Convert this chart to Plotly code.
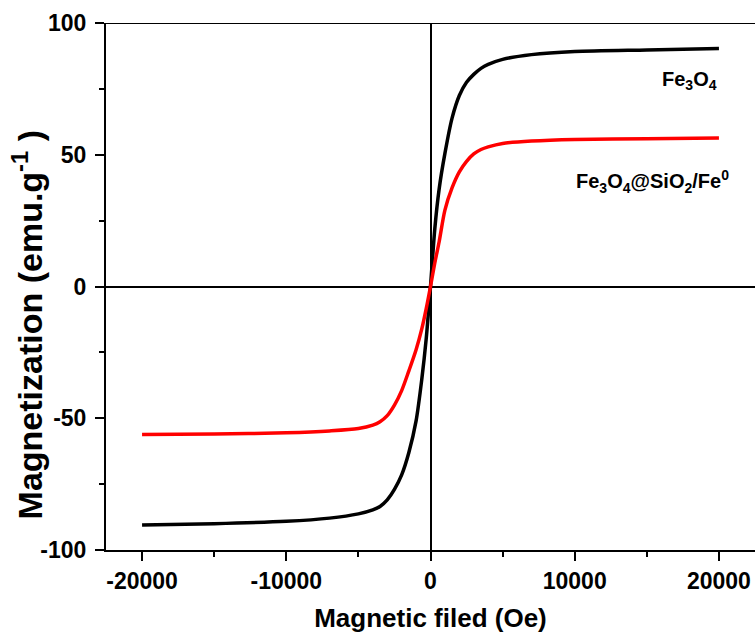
import plotly.graph_objects as go

field = [-20000, -15000, -10000, -7000, -5000, -4000, -3500, -3000, -2500, -2000, -1500, -1000, -600, -300, 0,
         300, 600, 1000, 1500, 2000, 2500, 3000, 3500, 4000, 5000, 7000, 10000, 15000, 20000]
m_fe3o4 = [-90.5, -90.0, -89.1, -87.9, -86.3, -84.8, -83.5, -81.0, -77.0, -71.5, -63.0, -51.0, -35.0, -20.0, 0.0,
           22.0, 37.0, 50.5, 64.0, 72.5, 77.5, 80.5, 82.8, 84.3, 86.2, 88.0, 89.2, 89.8, 90.3]
m_composite = [-56.2, -56.0, -55.5, -54.8, -53.9, -52.6, -51.3, -49.0, -45.0, -39.5, -32.0, -24.0, -16.0, -8.5, 0.0,
               9.0, 17.0, 29.0, 37.5, 43.5, 47.5, 50.3, 52.0, 53.0, 54.3, 55.2, 55.8, 56.1, 56.4]

x_ticks = [-20000, -10000, 0, 10000, 20000]
x_ticktext = ["-20000", "-10000", "0", "10000", "20000"]
y_ticks = [-100, -50, 0, 50, 100]
y_ticktext = ["-100", "-50", "0", "50", "100"]

FONT = "Arial, Liberation Sans, sans-serif"

fig = go.Figure()
fig.add_trace(go.Scatter(x=field, y=m_fe3o4, mode="lines",
                         line=dict(color="black", width=3.5, shape="spline", smoothing=0.8), name="Fe3O4"))
fig.add_trace(go.Scatter(x=field, y=m_composite, mode="lines",
                         line=dict(color="#ff0000", width=3.5, shape="spline", smoothing=0.8), name="Fe3O4@SiO2/Fe0"))

axis_common = dict(
    showgrid=False, showline=True, linecolor="black", linewidth=2,
    ticks="outside", ticklen=9, tickwidth=2, tickcolor="black",
    zeroline=True, zerolinecolor="black", zerolinewidth=2,
    tickfont=dict(family=FONT, size=23, color="black", weight="bold"),
)

fig.update_xaxes(range=[-22500, 22500], tickvals=x_ticks, ticktext=x_ticktext,
                 minor=dict(dtick=5000, tick0=0, ticks="outside", ticklen=5, tickwidth=2, tickcolor="black"),
                 title=dict(text="Magnetic filed (Oe)", font=dict(family=FONT, size=26, color="black", weight="bold"),
                            standoff=16),
                 **axis_common)
fig.update_yaxes(range=[-100, 100], tickvals=y_ticks, ticktext=y_ticktext, ticklabelstandoff=4,
                 minor=dict(dtick=25, tick0=0, ticks="outside", ticklen=5, tickwidth=2, tickcolor="black"),
                 **axis_common)

fig.add_annotation(xref="paper", yref="paper", x=0, xshift=-79, y=0.428, xanchor="center", yanchor="middle",
                   text="Magnetization (emu.g<sup>-1</sup> )", textangle=-90, showarrow=False,
                   font=dict(family=FONT, size=34, color="black", weight="bold"))

fig.add_shape(type="line", xref="paper", yref="y", x0=0, x1=1, y0=100, y1=100,
              line=dict(color="black", width=2))

fig.add_annotation(x=20000, y=78, xref="x", yref="y", text="Fe<sub>3</sub>O<sub>4</sub>",
                   showarrow=False, xanchor="right", yanchor="middle",
                   font=dict(family=FONT, size=20, color="black", weight="bold"))
fig.add_annotation(x=20850, y=40, xref="x", yref="y", text="Fe<sub>3</sub>O<sub>4</sub>@SiO<sub>2</sub>/Fe<sup>0</sup>",
                   showarrow=False, xanchor="right", yanchor="middle",
                   font=dict(family=FONT, size=20, color="black", weight="bold"))

fig.update_layout(width=755, height=634, margin=dict(l=106, r=0, t=23, b=84),
                  paper_bgcolor="white", plot_bgcolor="white", showlegend=False)

fig.write_html("out.html")
